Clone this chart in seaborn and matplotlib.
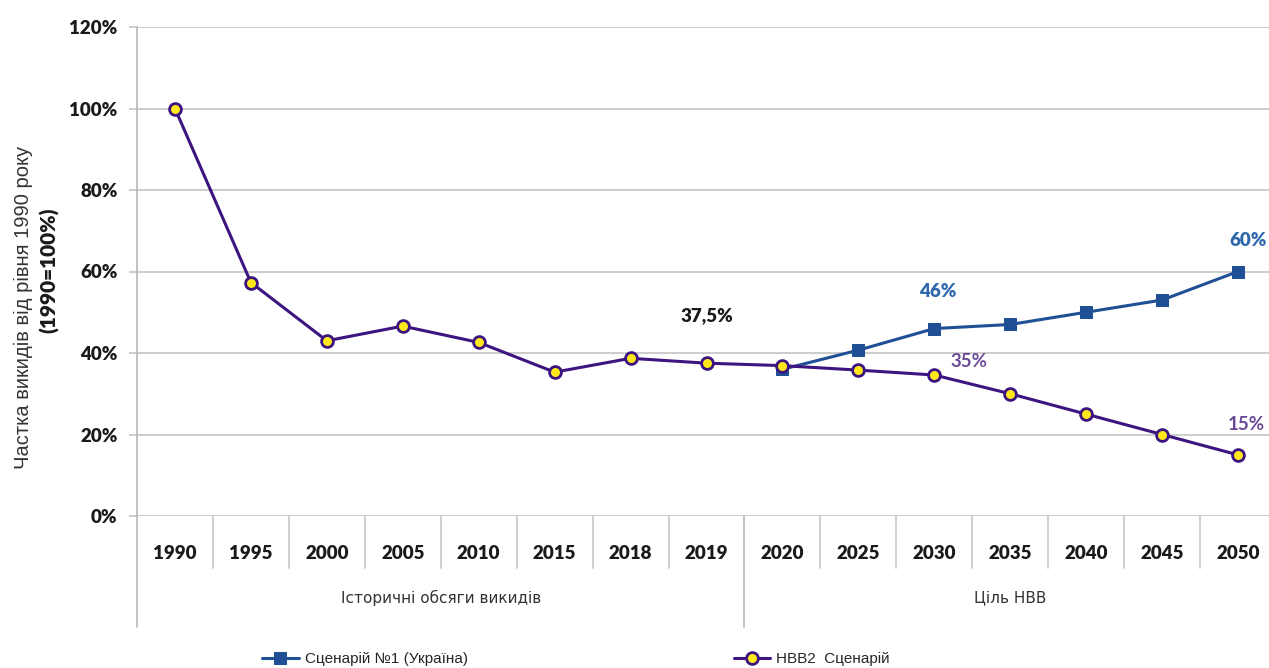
import matplotlib
matplotlib.use("Agg")
import matplotlib.pyplot as plt
import matplotlib.transforms as mtransforms
import seaborn as sns
import pandas as pd

# Emission shares relative to the 1990 level (%)
years = ["1990", "1995", "2000", "2005", "2010", "2015", "2018", "2019",
         "2020", "2025", "2030", "2035", "2040", "2045", "2050"]
ndc2_values = [100, 57.3, 43.0, 46.6, 42.6, 35.3, 38.7, 37.5,
               36.9, 35.8, 34.6, 30.0, 25.0, 20.0, 15.0]
scenario1_years = ["2020", "2025", "2030", "2035", "2040", "2045", "2050"]
scenario1_values = [36.0, 40.7, 46.0, 47.0, 50.0, 53.0, 60.0]

group_labels = ["Історичні обсяги викидів", "Ціль НВВ"]
group_sizes = [8, 7]
series_names = ["Сценарій №1 (Україна)", "НВВ2  Сценарій"]

# label text, year, value, colour, weight
annotations = [
    ("37,5%", "2019", 37.5, "#1a1a1a", "heavy"),
    ("46%", "2030", 46.0, "#2f68ad", "heavy"),
    ("35%", "2030", 34.6, "#6a4a98", "bold"),
    ("60%", "2050", 60.0, "#2f68ad", "heavy"),
    ("15%", "2050", 15.0, "#6a4a98", "bold"),
]

sns.set_theme(style="white")
plt.rcParams["font.family"] = ["Liberation Sans", "DejaVu Sans"]

pos = {y: i for i, y in enumerate(years)}
df_ndc = pd.DataFrame({"x": [pos[y] for y in years], "value": ndc2_values})
df_s1 = pd.DataFrame({"x": [pos[y] for y in scenario1_years], "value": scenario1_values})

fig = plt.figure(figsize=(12.69, 6.68), dpi=100)
ax = fig.add_axes([137 / 1269, 1 - 516 / 668, (1276 - 137) / 1269, (516 - 27) / 668])

blue = "#1f4f95"
purple = "#3d1580"
sns.lineplot(data=df_s1, x="x", y="value", ax=ax, color=blue, linewidth=2.2,
             marker="s", markersize=8.5, markerfacecolor=blue,
             markeredgecolor=blue, label=series_names[0], zorder=3)
sns.lineplot(data=df_ndc, x="x", y="value", ax=ax, color=purple, linewidth=2.2,
             marker="o", markersize=8.5, markerfacecolor="#ffe81a",
             markeredgecolor=purple, markeredgewidth=2, label=series_names[1],
             zorder=4)

tick_font = dict(fontfamily="Lato", fontweight="heavy", fontsize=13.5,
                 color="#1a1a1a")

ax.set_xlim(-0.5, len(years) - 0.5)
ax.set_ylim(0, 120)
ax.set_yticks(range(0, 121, 20))
ax.set_yticklabels([f"{v}%" for v in range(0, 121, 20)], **tick_font)
ax.yaxis.grid(True, color="#c4c4c4", linewidth=1.2)
ax.xaxis.grid(False)
ax.tick_params(axis="y", length=6, width=1.2, color="#c4c4c4", pad=8, left=True)
for side in ["top", "right", "bottom"]:
    ax.spines[side].set_visible(False)
ax.spines["left"].set_color("#b8b8b8")
ax.spines["left"].set_linewidth(1.2)

ax.set_xticks(range(len(years)))
ax.set_xticklabels(years, **tick_font)
ax.tick_params(axis="x", length=0, pad=21)
ax.set_xlabel("")
ax.set_ylabel("")

# Category separators below the axis
trans = mtransforms.blended_transform_factory(ax.transData, ax.transAxes)
boundaries = []
start = 0
for n in group_sizes:
    boundaries.append(start - 0.5)
    start += n
for i in range(len(years)):
    b = i - 0.5
    if b in boundaries:
        ax.plot([b, b], [0, -0.228], transform=trans, color="#b8b8b8",
                linewidth=1.2, clip_on=False)
    else:
        ax.plot([b, b], [0, -0.107], transform=trans, color="#c8c8c8",
                linewidth=1.2, clip_on=False)

# Group labels
start = 0
for label, n in zip(group_labels, group_sizes):
    center = start + (n - 1) / 2
    ax.text(center, -0.168, label, transform=trans, ha="center", va="center",
            fontsize=11, color="#333333", fontfamily="Liberation Sans Narrow")
    start += n

# Value annotations
offsets = {"37,5%": (0, 11.6), "46%": (0.05, 9.0), "35%": (0.45, 3.3),
           "60%": (0.13, 7.5), "15%": (0.11, 7.5)}
for text, yr, val, col, wt in annotations:
    dx, dy = offsets[text]
    ax.text(pos[yr] + dx, val + dy, text, ha="center", va="center",
            color=col, fontweight=wt, fontsize=13.5, fontfamily="Lato")

# Y-axis title: plain first line, bold second line
fig.text(23 / 1269, 1 - 307 / 668, "Частка викидів від рівня 1990 року",
         rotation=90, ha="center", va="center", fontsize=14.5, color="#333333")
fig.text(49 / 1269, 1 - 270 / 668, "(1990=100%)", rotation=90, ha="center",
         va="center", fontsize=15, fontweight="heavy", color="#1a1a1a",
         fontfamily="Lato")

handles, labels = ax.get_legend_handles_labels()
ax.get_legend().remove()
fig.legend(handles, labels, loc="center left",
           bbox_to_anchor=(262 / 1269, 1 - 659 / 668), ncol=2, frameon=False,
           fontsize=11, handlelength=2.4, handletextpad=0.4,
           columnspacing=17.4, borderaxespad=0, borderpad=0)

fig.savefig("out.png", dpi=100)
